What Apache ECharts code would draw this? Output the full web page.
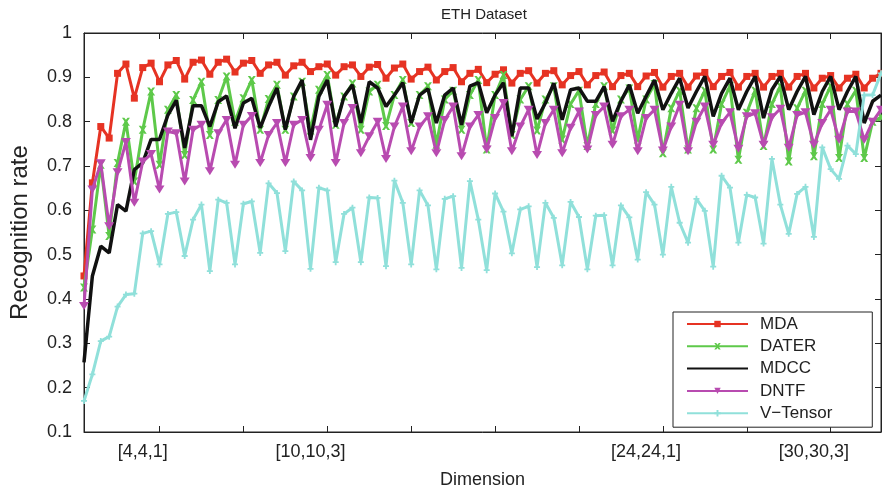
<!DOCTYPE html>
<html><head><meta charset="utf-8">
<script src="https://cdn.jsdelivr.net/npm/echarts@6/dist/echarts.min.js"></script>
<style>html,body{margin:0;padding:0;background:#fff}#c{width:882px;height:494px}</style>
</head><body><div id="c"></div>
<script>
// categories [d,d,c], c = 1..3, starting at [1,1,3]
const categories = [];
for (let k = 6; k < 102; k++) { const d = Math.floor((k - 1) / 3); const c = k - 3 * d; categories.push('[' + d + ',' + d + ',' + c + ']'); }
const tickLabels = ['[4,4,1]', '[10,10,3]', '[24,24,1]', '[30,30,3]'];
const seriesNames = ['MDA', 'DATER', 'MDCC', 'DNTF', 'V\u2212Tensor'];

const MDA = [.452,.662,.789,.763,.909,.930,.853,.922,.932,.890,.928,.938,
 .896,.934,.939,.907,.934,.941,.912,.932,.938,.909,.928,.934,
 .905,.926,.934,.913,.924,.930,.905,.924,.928,.902,.923,.929,
 .898,.921,.930,.896,.913,.923,.894,.913,.922,.890,.909,.918,
 .888,.907,.917,.887,.909,.915,.887,.909,.915,.883,.904,.913,
 .883,.904,.912,.879,.904,.909,.879,.903,.911,.878,.902,.909,
 .878,.903,.911,.879,.902,.911,.878,.902,.909,.878,.902,.909,
 .878,.902,.909,.876,.898,.904,.876,.898,.907,.876,.898,.909];
const DATER = [.426,.557,.703,.542,.707,.800,.665,.782,.868,.703,.827,.860,
 .725,.849,.890,.770,.849,.902,.800,.853,.894,.782,.851,.883,
 .782,.857,.890,.780,.872,.905,.793,.857,.886,.782,.868,.883,
 .790,.860,.894,.797,.860,.880,.748,.850,.870,.782,.860,.894,
 .737,.860,.905,.770,.850,.880,.780,.850,.880,.760,.840,.870,
 .745,.840,.880,.780,.850,.875,.760,.850,.885,.729,.830,.870,
 .737,.830,.870,.737,.840,.880,.714,.820,.870,.745,.840,.880,
 .710,.830,.870,.722,.840,.880,.718,.840,.870,.718,.800,.810];
const MDCC = [.257,.452,.519,.504,.613,.598,.692,.707,.760,.760,.815,.848,
 .741,.836,.836,.789,.845,.858,.785,.842,.853,.786,.834,.876,
 .782,.857,.894,.759,.857,.894,.789,.857,.883,.797,.890,.876,
 .834,.860,.888,.797,.860,.874,.797,.860,.876,.793,.880,.888,
 .820,.860,.888,.767,.876,.876,.806,.842,.887,.804,.872,.876,
 .846,.846,.879,.801,.846,.883,.819,.857,.894,.827,.864,.898,
 .831,.868,.902,.812,.864,.898,.827,.868,.902,.808,.872,.902,
 .827,.868,.902,.816,.868,.902,.827,.868,.902,.797,.846,.860];
const DNTF = [.384,.647,.706,.564,.686,.754,.617,.710,.727,.647,.778,.774,
 .665,.782,.793,.688,.774,.804,.703,.793,.813,.707,.770,.797,
 .707,.793,.804,.718,.782,.838,.707,.797,.831,.729,.767,.800,
 .716,.789,.834,.733,.789,.812,.729,.804,.834,.722,.789,.815,
 .737,.808,.842,.733,.789,.827,.725,.797,.827,.729,.786,.823,
 .737,.815,.834,.748,.812,.827,.733,.808,.827,.735,.789,.838,
 .733,.800,.834,.748,.797,.821,.739,.812,.819,.748,.810,.829,
 .741,.815,.821,.748,.797,.827,.759,.823,.823,.759,.800,.827];
const VTensor = [.170,.230,.305,.315,.383,.410,.412,.548,.553,.478,.592,.596,
 .497,.579,.613,.463,.624,.617,.478,.615,.620,.504,.661,.639,
 .508,.665,.645,.468,.651,.645,.483,.592,.606,.483,.629,.628,
 .474,.667,.617,.478,.645,.611,.467,.626,.632,.470,.666,.579,
 .465,.638,.597,.503,.602,.609,.472,.617,.583,.476,.619,.585,
 .467,.588,.589,.476,.611,.584,.489,.641,.613,.500,.653,.572,
 .527,.626,.599,.473,.678,.651,.527,.635,.629,.525,.716,.613,
 .547,.637,.653,.540,.742,.693,.671,.746,.727,.860,.860,.909];

const FONT = 'Liberation Sans, Arial, Helvetica, sans-serif';
const TXT = '#222';
const tickFn = (i) => i % 10 === 9;
const labelFn = (i, v) => tickLabels.indexOf(v) >= 0;

const xBase = {
  type: 'category', data: categories, boundaryGap: false,
  axisLine: { show: true, lineStyle: { color: TXT, width: 1 } },
  axisTick: { show: true, inside: true, length: 6, interval: tickFn, lineStyle: { color: TXT } },
  splitLine: { show: false }
};
const yBase = {
  type: 'value', min: 0.1, max: 1, interval: 0.1,
  axisLine: { show: true, lineStyle: { color: TXT, width: 1 } },
  axisTick: { show: true, inside: true, length: 6, lineStyle: { color: TXT } },
  splitLine: { show: false }
};

const xPath = 'path://M0,0 L3,0 L5,2.5 L7,0 L10,0 L6.5,5 L10,10 L7,10 L5,7.5 L3,10 L0,10 L3.5,5 Z';
const downTri = 'path://M0,0 L10,0 L5,8 Z';
const plusPath = 'path://M3.5,0 L6.5,0 L6.5,3.5 L10,3.5 L10,6.5 L6.5,6.5 L6.5,10 L3.5,10 L3.5,6.5 L0,6.5 L0,3.5 L3.5,3.5 Z';

const styles = [
  { data: MDA, color: '#e63323', symbol: 'rect', size: 7, width: 3 },
  { data: DATER, color: '#5ec94a', symbol: xPath, size: 8, width: 3 },
  { data: MDCC, color: '#111111', symbol: 'none', size: 0, width: 3.5 },
  { data: DNTF, color: '#b84bb0', symbol: downTri, size: [10, 8], width: 3 },
  { data: VTensor, color: '#90e0da', symbol: plusPath, size: 6, width: 3 }
];

const legendData = seriesNames.map((n, k) => styles[k].symbol === 'none'
  ? { name: n, itemStyle: { color: 'rgba(0,0,0,0)', borderWidth: 0, opacity: 0 } }
  : { name: n });

const chart = echarts.init(document.getElementById('c'), null, { renderer: 'canvas' });
chart.setOption({
  animation: false,
  backgroundColor: '#fff',
  textStyle: { fontFamily: FONT },
  title: { text: 'ETH Dataset', left: 436, top: 2, textStyle: { fontFamily: FONT, fontSize: 15, fontWeight: 'normal', color: TXT } },
  grid: { left: 84, right: 1, top: 33, bottom: 61, show: true, borderColor: TXT, borderWidth: 1, containLabel: false },
  legend: {
    orient: 'vertical', left: 673, top: 312,
    itemWidth: 61, itemHeight: 8, itemGap: 4.3,
    padding: [3, 40, 5, 13],
    backgroundColor: '#fff', borderColor: TXT, borderWidth: 1,
    textStyle: { fontFamily: FONT, fontSize: 17, color: TXT, lineHeight: 18, padding: [0, 0, 0, 7] },
    data: legendData
  },
  xAxis: [
    Object.assign({}, xBase, {
      position: 'bottom',
      axisLabel: { show: true, interval: labelFn, fontSize: 18, color: TXT, fontFamily: FONT, margin: 11 },
      name: 'Dimension', nameLocation: 'middle', nameGap: 39,
      nameTextStyle: { fontSize: 18, color: TXT, fontFamily: FONT }
    }),
    Object.assign({}, xBase, { position: 'top', axisLabel: { show: false } })
  ],
  yAxis: [
    Object.assign({}, yBase, {
      position: 'left',
      axisLabel: { show: true, fontSize: 18, color: TXT, fontFamily: FONT, margin: 12,
        formatter: (v) => String(+v.toFixed(1)) },
      name: 'Recognition rate', nameLocation: 'middle', nameGap: 52,
      nameTextStyle: { fontSize: 24, color: TXT, fontFamily: FONT }
    }),
    Object.assign({}, yBase, { position: 'right', axisLabel: { show: false } })
  ],
  series: styles.map((s, k) => ({
    name: seriesNames[k], type: 'line', data: s.data,
    xAxisIndex: 0, yAxisIndex: 0,
    symbol: s.symbol, symbolSize: s.size, showSymbol: s.symbol !== 'none', showAllSymbol: true,
    lineStyle: { color: s.color, width: s.width },
    itemStyle: { color: s.color, borderWidth: 0 },
    z: 2 + k, zlevel: 0,
    emphasis: { disabled: true }
  }))
});
</script></body></html>
